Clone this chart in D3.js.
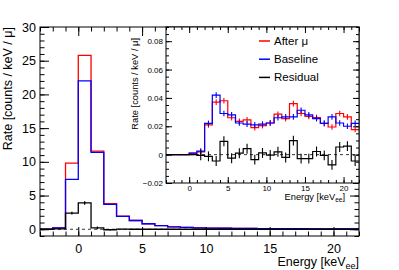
<!DOCTYPE html>
<html><head><meta charset="utf-8">
<script src="https://cdn.jsdelivr.net/npm/d3@7"></script>
<style>body{margin:0;background:#fff} text{font-family:"Liberation Sans",Arial,sans-serif;fill:#000}</style>
</head><body><svg id="c" width="399" height="270"></svg>
<script>
// ---------- data ----------
const binLow = d3.range(-3, 22); // lower edges of 1 keV bins
const mainAfter    = [0, 0.2, 9.8, 25.8, 11.6, 3.8, 1.95, 1.3, 0.82, 0.54, 0.35, 0.27, 0.22, 0.18, 0.15, 0.13, 0.12, 0.1, 0.09, 0.08, 0.08, 0.07, 0.07, 0.06, 0.06];
const mainBaseline = [0, 0.2, 7.4, 22.0, 11.4, 3.7, 1.9, 1.3, 0.82, 0.54, 0.35, 0.27, 0.22, 0.18, 0.15, 0.13, 0.12, 0.1, 0.09, 0.08, 0.08, 0.07, 0.07, 0.06, 0.06];
const mainResidual = [0, 0.05, 2.4, 3.9, 0.2, -0.07, 0.03, 0, 0, 0, 0, 0, 0, 0, 0, 0, 0, 0, 0, 0, 0, 0, 0, 0, 0];
const mainResidualErr = [0, 0.05, 0.2, 0.25, 0.2, 0.1, 0.05, 0, 0, 0, 0, 0, 0, 0, 0, 0, 0, 0, 0, 0, 0, 0, 0, 0, 0];

const insetAfter    = [0, 0, 0, 0.001, 0.002, 0.021, 0.037, 0.038, 0.026, 0.0235, 0.0245, 0.019, 0.0205, 0.0223, 0.0285, 0.0254, 0.036, 0.029, 0.027, 0.0262, 0.022, 0.0195, 0.029, 0.0266, 0.0177];
const insetBaseline = [0, 0, 0, 0.001, 0.0025, 0.022, 0.042, 0.029, 0.028, 0.0223, 0.0215, 0.021, 0.0215, 0.0223, 0.026, 0.0266, 0.0266, 0.0313, 0.028, 0.0254, 0.022, 0.0266, 0.0223, 0.020, 0.022];
const insetResidual = [0, 0, 0, 0, -0.0005, -0.0012, -0.0045, 0.0094, -0.0025, 0.001, 0.0042, -0.0035, 0.0012, -0.0003, 0.002, -0.002, 0.0099, -0.0028, -0.0028, 0.0022, -0.0005, -0.0072, 0.0054, 0.006, -0.0045];
const insetColErr = 0.002;
const insetResErr = 0.0035;

const mainXTicks = [0, 5, 10, 15, 20];
const mainYTicks = [0, 5, 10, 15, 20, 25, 30];
const insetXTicks = [0, 5, 10, 15, 20];
const insetYTicks = [-0.02, 0, 0.02, 0.04, 0.06, 0.08];
const legendLabels = ["After μ", "Baseline", "Residual"];
const colors = ["#ff0000", "#0000ff", "#000000"];

// ---------- layout ----------
const svg = d3.select("#c");
const M = {l: 40, r: 359, t: 27, b: 236};
const I = {l: 166, r: 359, t: 27, b: 183};

const mx = d3.scaleLinear().domain([-3, 22]).range([M.l, M.r]);
const my = d3.scaleLinear().domain([-1, 30]).range([M.b, M.t]);
const ix = d3.scaleLinear().domain([-3, 22]).range([I.l, I.r]);
const iy = d3.scaleLinear().domain([-0.02, 0.09]).range([I.b, I.t]);

function stepPath(x, y, vals) {
  const pts = binLow.map((lo, i) => [lo, vals[i]]);
  pts.push([binLow[binLow.length - 1] + 1, vals[vals.length - 1]]);
  return d3.line().x(d => x(d[0])).y(d => y(d[1])).curve(d3.curveStepAfter)(pts);
}

function frame(g, x, y, B, xMaj, xMin, yMaj, yMin, majL, minL, fs, yFmt, labelPad) {
  const ax = (gen, tr, ticks, len, labels) => {
    const a = gen.tickValues(ticks).tickSizeInner(-len).tickSizeOuter(0);
    if (!labels) a.tickFormat("");
    const gg = g.append("g").attr("transform", tr).call(a);
    gg.select(".domain").remove();
    gg.selectAll("line").attr("stroke", "#000");
    return gg;
  };
  const gb = ax(d3.axisBottom(x), `translate(0,${B.b})`, xMaj, majL, true);
  gb.selectAll("text").attr("font-size", fs).attr("dy", "0.71em").attr("y", labelPad.x).attr("font-family", '"Liberation Sans",Arial,sans-serif');
  ax(d3.axisBottom(x), `translate(0,${B.b})`, xMin, minL, false);
  ax(d3.axisTop(x), `translate(0,${B.t})`, xMaj, majL, false);
  ax(d3.axisTop(x), `translate(0,${B.t})`, xMin, minL, false);
  const gl = ax(d3.axisLeft(y).tickFormat(yFmt), `translate(${B.l},0)`, yMaj, majL, true);
  gl.selectAll("text").attr("font-size", fs).attr("x", -labelPad.y).attr("font-family", '"Liberation Sans",Arial,sans-serif');
  ax(d3.axisLeft(y), `translate(${B.l},0)`, yMin, minL, false);
  ax(d3.axisRight(y), `translate(${B.r},0)`, yMaj, majL, false);
  ax(d3.axisRight(y), `translate(${B.r},0)`, yMin, minL, false);
  g.append("rect").attr("x", B.l).attr("y", B.t).attr("width", B.r - B.l).attr("height", B.b - B.t)
    .attr("fill", "none").attr("stroke", "#000").attr("stroke-width", 1);
}

// ---------- main ----------
const gm = svg.append("g");
gm.append("line").attr("x1", M.l).attr("x2", M.r).attr("y1", my(0)).attr("y2", my(0))
  .attr("stroke", "#000").attr("stroke-dasharray", "3,3").attr("stroke-width", 0.8);
[mainAfter, mainBaseline].forEach((v, k) => {
  gm.append("path").attr("d", stepPath(mx, my, v)).attr("fill", "none").attr("stroke", colors[k]).attr("stroke-width", 1.3);
});
gm.append("path").attr("d", stepPath(mx, my, mainResidual)).attr("fill", "none").attr("stroke", "#000").attr("stroke-width", 1.3);
gm.selectAll(".me").data(binLow.map((lo, i) => i).filter(i => mainResidualErr[i] > 0)).enter().append("line")
  .attr("x1", i => mx(binLow[i] + 0.5)).attr("x2", i => mx(binLow[i] + 0.5))
  .attr("y1", i => my(mainResidual[i] - mainResidualErr[i])).attr("y2", i => my(mainResidual[i] + mainResidualErr[i]))
  .attr("stroke", "#000").attr("stroke-width", 1.3);

frame(gm, mx, my, M, mainXTicks, d3.range(-3, 23), mainYTicks, d3.range(-1, 31), 9, 4.5, "12.5px", d3.format("d"), {x: 8, y: 4});

gm.append("text").attr("transform", `translate(12,${M.t}) rotate(-90)`).attr("text-anchor", "end")
  .attr("font-size", "12.5px").text("Rate [counts / keV / μ]");
const xt = gm.append("text").attr("x", M.r).attr("y", 266).attr("text-anchor", "end").attr("font-size", "12.5px");
xt.append("tspan").text("Energy [keV");
xt.append("tspan").attr("font-size", "9px").attr("dy", 3).text("ee");
xt.append("tspan").attr("dy", -3).text("]");

// ---------- inset ----------
const gi = svg.append("g");
gi.append("rect").attr("x", I.l).attr("y", I.t).attr("width", I.r - I.l).attr("height", I.b - I.t).attr("fill", "#fff");
gi.append("line").attr("x1", I.l).attr("x2", I.r).attr("y1", iy(0)).attr("y2", iy(0))
  .attr("stroke", "#000").attr("stroke-dasharray", "3,3").attr("stroke-width", 0.8);

function errBars(g, vals, err, color, start) {
  g.selectAll(null).data(binLow.map((lo, i) => i).filter(i => binLow[i] >= start)).enter().append("line")
    .attr("x1", i => ix(binLow[i] + 0.5)).attr("x2", i => ix(binLow[i] + 0.5))
    .attr("y1", i => iy(vals[i] - err)).attr("y2", i => iy(vals[i] + err))
    .attr("stroke", color).attr("stroke-width", 1.1);
}
gi.append("path").attr("d", stepPath(ix, iy, insetAfter)).attr("fill", "none").attr("stroke", colors[0]).attr("stroke-width", 1.2);
errBars(gi, insetAfter, insetColErr, colors[0], 1);
gi.append("path").attr("d", stepPath(ix, iy, insetBaseline)).attr("fill", "none").attr("stroke", colors[1]).attr("stroke-width", 1.2);
errBars(gi, insetBaseline, insetColErr, colors[1], 1);
gi.append("path").attr("d", stepPath(ix, iy, insetResidual)).attr("fill", "none").attr("stroke", "#000").attr("stroke-width", 1.2);
errBars(gi, insetResidual, insetResErr, "#000", 1);

frame(gi, ix, iy, I, insetXTicks, d3.range(-3, 23), insetYTicks, d3.range(-0.02, 0.0901, 0.005), 6, 3, "8px",
  d => d === 0 ? "0" : d3.format(".2f")(d), {x: 2, y: 3});

gi.append("text").attr("transform", `translate(138,38) rotate(-90)`).attr("text-anchor", "end")
  .attr("font-size", "9.3px").text("Rate [counts / keV / μ]");
const it = gi.append("text").attr("x", 345).attr("y", 199.5).attr("text-anchor", "end").attr("font-size", "9.3px");
it.append("tspan").text("Energy [keV");
it.append("tspan").attr("font-size", "6.5px").attr("dy", 2.5).text("ee");
it.append("tspan").attr("dy", -2.5).text("]");

// legend
const lg = gi.append("g");
legendLabels.forEach((t, k) => {
  const yy = 41 + k * 18.2;
  lg.append("line").attr("x1", 259).attr("x2", 270).attr("y1", yy).attr("y2", yy).attr("stroke", colors[k]).attr("stroke-width", 1.5);
  lg.append("text").attr("x", 274).attr("y", yy).attr("dy", "0.35em").attr("font-size", "11.5px").text(t);
});
</script></body></html>
